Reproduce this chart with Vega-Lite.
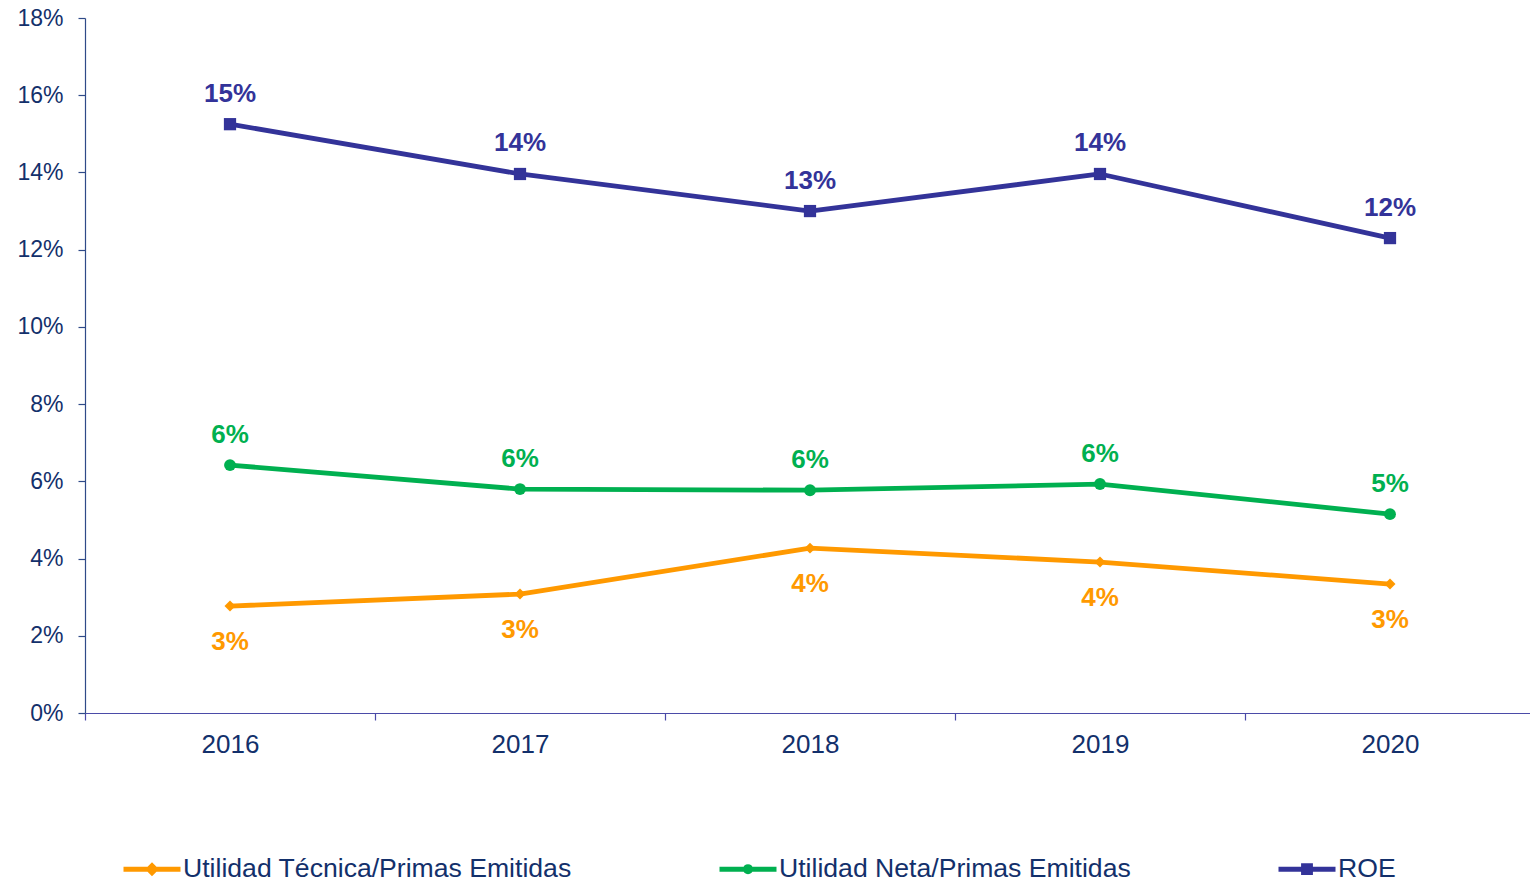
{
  "$schema": "https://vega.github.io/schema/vega-lite/v6.json",
  "width": 1450,
  "height": 695,
  "autosize": "none",
  "padding": {"left": 85, "top": 18, "right": 0, "bottom": 170},
  "background": "white",
  "config": {"view": {"stroke": null}, "font": "Liberation Sans"},
  "data": {
    "values": [
      {"year": "2016", "series": "Utilidad Técnica/Primas Emitidas", "value": 0.0277},
      {"year": "2017", "series": "Utilidad Técnica/Primas Emitidas", "value": 0.0308},
      {"year": "2018", "series": "Utilidad Técnica/Primas Emitidas", "value": 0.0427},
      {"year": "2019", "series": "Utilidad Técnica/Primas Emitidas", "value": 0.0391},
      {"year": "2020", "series": "Utilidad Técnica/Primas Emitidas", "value": 0.0334},
      {"year": "2016", "series": "Utilidad Neta/Primas Emitidas", "value": 0.0642},
      {"year": "2017", "series": "Utilidad Neta/Primas Emitidas", "value": 0.0580},
      {"year": "2018", "series": "Utilidad Neta/Primas Emitidas", "value": 0.0577},
      {"year": "2019", "series": "Utilidad Neta/Primas Emitidas", "value": 0.0593},
      {"year": "2020", "series": "Utilidad Neta/Primas Emitidas", "value": 0.0515},
      {"year": "2016", "series": "ROE", "value": 0.1525},
      {"year": "2017", "series": "ROE", "value": 0.1396},
      {"year": "2018", "series": "ROE", "value": 0.1300},
      {"year": "2019", "series": "ROE", "value": 0.1396},
      {"year": "2020", "series": "ROE", "value": 0.1230}
    ]
  },
  "encoding": {
    "x": {
      "field": "year",
      "type": "ordinal",
      "scale": {"type": "band", "paddingInner": 0, "paddingOuter": 0},
      "axis": {
        "title": null,
        "labelAngle": 0,
        "labelFontSize": 26,
        "labelColor": "#13306B",
        "labelPadding": 11,
        "tickBand": "extent",
        "tickSize": 7,
        "tickColor": "#4B4BA8",
        "domainColor": "#4B4BA8",
        "domainWidth": 1.2,
        "tickWidth": 1.2
      }
    },
    "y": {
      "field": "value",
      "type": "quantitative",
      "scale": {"domain": [0, 0.18], "nice": false},
      "axis": {
        "title": null,
        "values": [0, 0.02, 0.04, 0.06, 0.08, 0.1, 0.12, 0.14, 0.16, 0.18],
        "format": ".0%",
        "grid": false,
        "labelFontSize": 23,
        "labelColor": "#13306B",
        "labelPadding": 15,
        "tickSize": 7,
        "tickColor": "#2F4A88",
        "domainColor": "#2F4A88",
        "domainWidth": 1.2,
        "tickWidth": 1.2
      }
    },
    "color": {
      "field": "series",
      "type": "nominal",
      "scale": {
        "domain": ["Utilidad Técnica/Primas Emitidas", "Utilidad Neta/Primas Emitidas", "ROE"],
        "range": ["#FF9900", "#00B050", "#333399"]
      },
      "legend": {
        "title": null,
        "orient": "none",
        "direction": "horizontal",
        "columns": 3,
        "legendX": 36,
        "legendY": 820,
        "padding": 0,
        "columnPadding": 137,
        "labelFontSize": 26.6,
        "labelColor": "#13306B",
        "labelOffset": 0,
        "labelLimit": 0,
        "symbolSize": 3249,
        "symbolStrokeWidth": 5,
        "symbolOpacity": 1,
        "encode": {
          "symbols": {
            "update": {
              "fill": {"scale": "color", "field": "value"},
              "stroke": {"scale": "color", "field": "value"},
              "strokeWidth": {"value": 5},
              "opacity": {"value": 1}
            }
          }
        }
      }
    }
  },
  "layer": [
    {"mark": {"type": "line", "strokeWidth": 4.8, "strokeJoin": "round"}},
    {
      "mark": {"type": "point", "filled": true, "opacity": 0, "size": 3249},
      "encoding": {
        "shape": {
          "field": "series",
          "type": "nominal",
          "scale": {
            "domain": ["Utilidad Técnica/Primas Emitidas", "Utilidad Neta/Primas Emitidas", "ROE"],
            "range": [
              "M-1,0H1M0,-0.12L0.12,0L0,0.12L-0.12,0Z",
              "M-1,0H1M-0.09,0A0.09,0.09,0,1,1,0.09,0A0.09,0.09,0,1,1,-0.09,0Z",
              "M-1,0H1M-0.12,-0.12H0.12V0.12H-0.12Z"
            ]
          }
        }
      }
    },
    {
      "transform": [{"filter": "datum.series === 'Utilidad Técnica/Primas Emitidas'"}],
      "mark": {"type": "point", "filled": true, "opacity": 1, "size": 120, "shape": "diamond"}
    },
    {
      "transform": [{"filter": "datum.series === 'Utilidad Neta/Primas Emitidas'"}],
      "mark": {"type": "point", "filled": true, "opacity": 1, "size": 140, "shape": "circle"}
    },
    {
      "transform": [{"filter": "datum.series === 'ROE'"}],
      "mark": {"type": "point", "filled": true, "opacity": 1, "size": 150, "shape": "square"}
    },
    {
      "transform": [{"filter": "datum.series !== 'Utilidad Técnica/Primas Emitidas'"}],
      "mark": {"type": "text", "fontSize": 26, "fontWeight": "bold", "dy": -30.5, "baseline": "middle"},
      "encoding": {"text": {"field": "value", "type": "quantitative", "format": ".0%"}}
    },
    {
      "transform": [{"filter": "datum.series === 'Utilidad Técnica/Primas Emitidas'"}],
      "mark": {"type": "text", "fontSize": 26, "fontWeight": "bold", "dy": 35.5, "baseline": "middle"},
      "encoding": {"text": {"field": "value", "type": "quantitative", "format": ".0%"}}
    }
  ]
}
